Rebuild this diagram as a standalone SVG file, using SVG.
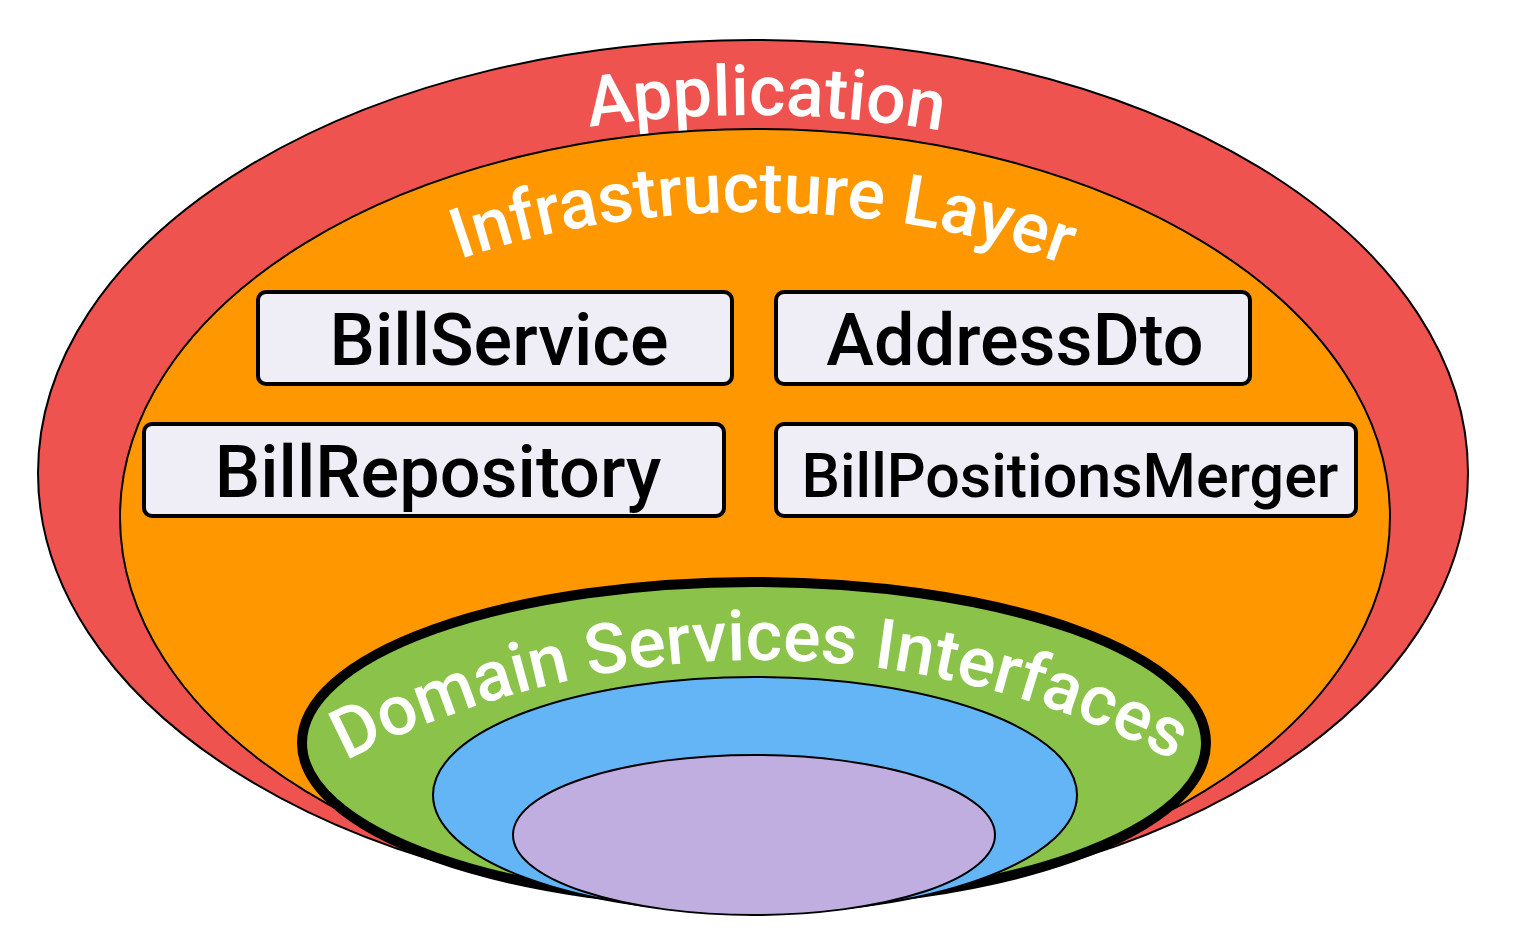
<svg xmlns="http://www.w3.org/2000/svg" width="1526" height="938" viewBox="0 0 1526 938">
  <style>
    .layer { stroke: #000; stroke-width: 2; }
    .ltxt { font-family: Roboto, "Liberation Sans", sans-serif; font-weight: 500; fill: #fff; }
    .box rect { fill: #EFEDF6; stroke: #000; stroke-width: 4; }
    .box text { font-family: Roboto, "Liberation Sans", sans-serif; font-weight: 500; fill: #000; text-anchor: middle; }
  </style>
  <defs>
    <path id="pApp" d="M 113,473 A 640,358 0 0,1 1393,473"/>
    <path id="pInfra" d="M 203,517 A 552,305 0 0,1 1307,517"/>
    <path id="pDomain" d="M -140,1560 A 900,900 0 0,1 1660,1560"/>
  </defs>
  <rect width="1526" height="938" fill="#fff"/>
  <g id="application">
    <ellipse class="layer" cx="753" cy="473" rx="715" ry="433" fill="#EF5350"/>
    <text class="ltxt" font-size="70"><textPath href="#pApp" startOffset="50.8%" text-anchor="middle">Application</textPath></text>
  </g>
  <g id="infrastructure">
    <ellipse class="layer" cx="755" cy="517" rx="635" ry="388" fill="#FF9800"/>
    <text class="ltxt" font-size="70"><textPath href="#pInfra" startOffset="50.6%" text-anchor="middle">Infrastructure Layer</textPath></text>
  </g>
  <g id="billservice" class="box">
    <rect x="258" y="292" width="474" height="92" rx="8"/>
    <text x="499" y="365" font-size="72">BillService</text>
  </g>
  <g id="addressdto" class="box">
    <rect x="776" y="292" width="474" height="92" rx="8"/>
    <text x="1015" y="365" font-size="72">AddressDto</text>
  </g>
  <g id="billrepository" class="box">
    <rect x="144" y="424" width="580" height="92" rx="8"/>
    <text x="438" y="497" font-size="72">BillRepository</text>
  </g>
  <g id="billpositionsmerger" class="box">
    <rect x="776" y="424" width="580" height="92" rx="8"/>
    <text x="1070" y="497" font-size="61">BillPositionsMerger</text>
  </g>
  <g id="domain-services-interfaces">
    <ellipse cx="754" cy="743" rx="452" ry="161" fill="#8BC34A" stroke="#000" stroke-width="10"/>
    <text class="ltxt" font-size="70"><textPath href="#pDomain" startOffset="50%" text-anchor="middle">Domain Services Interfaces</textPath></text>
  </g>
  <g id="blue-layer">
    <ellipse class="layer" cx="755" cy="795" rx="322" ry="118" fill="#64B5F6"/>
  </g>
  <g id="purple-layer">
    <ellipse class="layer" cx="754" cy="835" rx="241" ry="80" fill="#C1AEE0"/>
  </g>
  <g id="connectors"/>
</svg>
